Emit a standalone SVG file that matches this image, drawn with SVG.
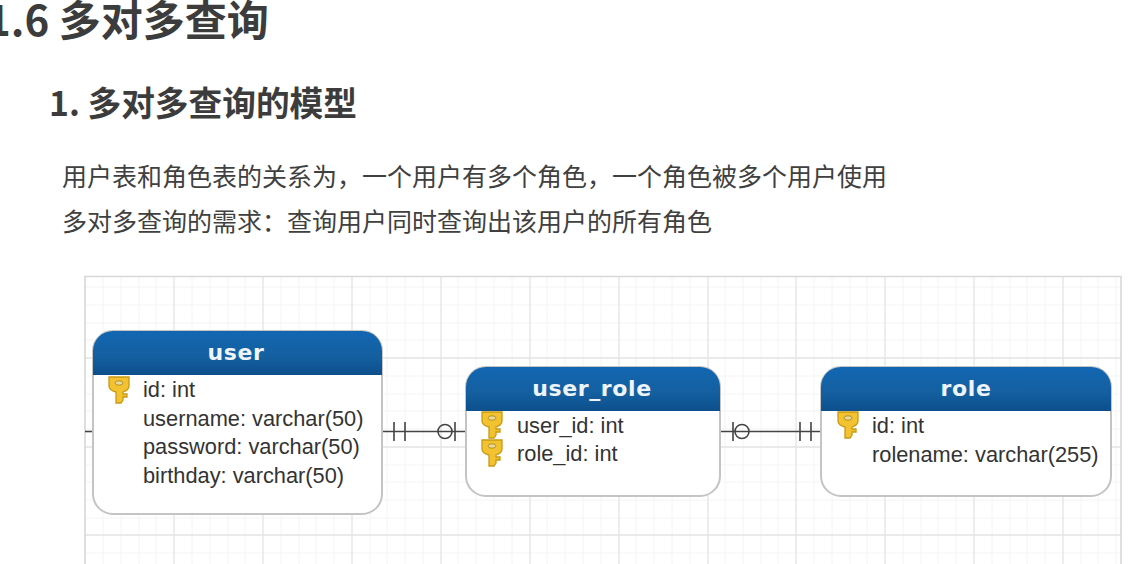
<svg xmlns="http://www.w3.org/2000/svg" width="1145" height="564" viewBox="0 0 1145 564">
<style>
.cjk{font-family:"Noto Sans CJK SC","Noto Sans",sans-serif;fill:#3c3c3c}
.h1{font-size:42px;font-weight:700}
.h2{font-size:33.7px;font-weight:700}
.p{font-size:25px;font-weight:400;fill:#404040}
.minor{stroke:#f4f4f4;stroke-width:1;fill:none}
.major{stroke:#e4e4e4;stroke-width:1.3;fill:none}
.box{fill:#fff;stroke:#c4c4c4;stroke-width:2}
.hd{font-family:"DejaVu Sans",sans-serif;font-size:22px;font-weight:700;letter-spacing:.6px;fill:#eef4fa;text-anchor:middle}
.f{font-family:"Liberation Sans",Arial,sans-serif;font-size:21.8px;fill:#333}
.c{stroke:#444;stroke-width:1.6;fill:none}
</style>
<defs>
<linearGradient id="g" x1="0" y1="0" x2="0" y2="1"><stop offset="0" stop-color="#1267b2"/><stop offset="0.6" stop-color="#145f9f"/><stop offset="1" stop-color="#0c4f8c"/></linearGradient>
<g id="key">
<path d="M-10 0H10V9C10 12 7 14 4 15V17H8V20H4V23L2 26H-3V15C-7 14-10 12-10 9Z" fill="#f2c230" stroke="#c99a12" stroke-width="1.3"/>
<ellipse cx="0" cy="6" rx="4" ry="2.2" fill="#e8d9a0" stroke="#b8901a"/>
</g>
</defs>
<rect width="1145" height="564" fill="#fff"/>
<text class="cjk h1" x="-14" y="36">1.6 多对多查询</text>
<text class="cjk h2" x="49" y="116">1. 多对多查询的模型</text>
<text class="cjk p" x="62" y="186">用户表和角色表的关系为&#65292;一个用户有多个角色&#65292;一个角色被多个用户使用</text>
<text class="cjk p" x="62" y="231">多对多查询的需求&#65306;查询用户同时查询出该用户的所有角色</text>

<g id="grid">
<path class="minor" d="M103 276V564M121 276V564M139 276V564M156 276V564M192 276V564M210 276V564M228 276V564M245 276V564M281 276V564M299 276V564M316 276V564M334 276V564M370 276V564M387 276V564M405 276V564M423 276V564M458 276V564M476 276V564M494 276V564M512 276V564M547 276V564M565 276V564M583 276V564M601 276V564M636 276V564M654 276V564M672 276V564M690 276V564M725 276V564M743 276V564M761 276V564M778 276V564M814 276V564M832 276V564M850 276V564M867 276V564M903 276V564M921 276V564M938 276V564M956 276V564M992 276V564M1010 276V564M1027 276V564M1045 276V564M1081 276V564M1098 276V564M1116 276V564"/>
<path class="minor" d="M85 287H1121M85 305H1121M85 323H1121M85 340H1121M85 376H1121M85 394H1121M85 411H1121M85 429H1121M85 465H1121M85 482H1121M85 500H1121M85 518H1121M85 553H1121"/>
<path class="major" d="M174 276V564M263 276V564M352 276V564M441 276V564M530 276V564M619 276V564M708 276V564M796 276V564M885 276V564M974 276V564M1063 276V564"/>
<path class="major" d="M85 358H1121M85 447H1121M85 535H1121"/>
<path d="M85 564V276.5H1121V564" fill="none" stroke="#d8d8d8" stroke-width="1.6"/>
</g>

<g id="connectors">
<path class="c" d="M85 431.5H93"/>
<path class="c" d="M382 431.5H466M394 422V441M405 422V441M455 422V441"/>
<circle class="c" cx="445" cy="431.5" r="7"/>
<path class="c" d="M720 431.5H821M733 422V441M800 422V441M811 422V441"/>
<circle class="c" cx="742" cy="431.5" r="7"/>
</g>

<g id="user">
<rect class="box" x="93" y="331" width="289" height="183" rx="20"/>
<path d="M93 375V351A20 20 0 0 1 113 331H362A20 20 0 0 1 382 351V375Z" fill="url(#g)"/>
<text class="hd" x="236" y="360">user</text>
<use href="#key" x="119" y="377"/>
<text class="f" x="143" y="397">id: int</text>
<text class="f" x="143" y="426">username: varchar(50)</text>
<text class="f" x="143" y="454">password: varchar(50)</text>
<text class="f" x="143" y="483">birthday: varchar(50)</text>
</g>

<g id="user_role">
<rect class="box" x="466" y="367" width="254" height="129" rx="20"/>
<path d="M466 411V387A20 20 0 0 1 486 367H700A20 20 0 0 1 720 387V411Z" fill="url(#g)"/>
<text class="hd" x="592" y="396">user_role</text>
<use href="#key" x="492" y="412"/>
<use href="#key" x="492" y="440"/>
<text class="f" x="517" y="433">user_id: int</text>
<text class="f" x="517" y="461">role_id: int</text>
</g>

<g id="role">
<rect class="box" x="821" y="367" width="290" height="129" rx="20"/>
<path d="M821 411V387A20 20 0 0 1 841 367H1091A20 20 0 0 1 1111 387V411Z" fill="url(#g)"/>
<text class="hd" x="966" y="396">role</text>
<use href="#key" x="848" y="412"/>
<text class="f" x="872" y="433">id: int</text>
<text class="f" x="872" y="462">rolename: varchar(255)</text>
</g>
</svg>
